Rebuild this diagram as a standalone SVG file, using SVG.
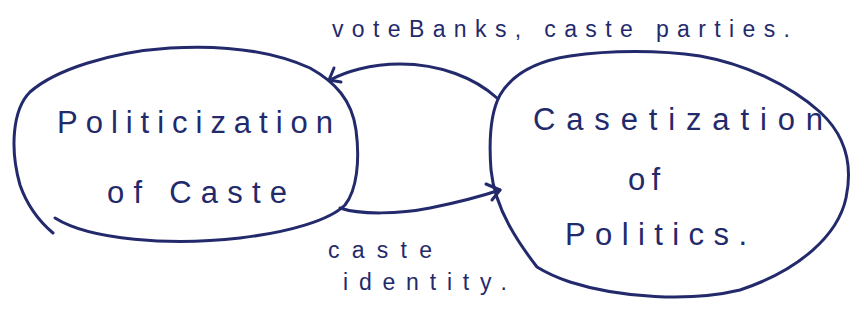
<svg xmlns="http://www.w3.org/2000/svg" width="851" height="322" viewBox="0 0 851 322">
  <style>
    .ink { fill: none; stroke: #232a6c; stroke-width: 3; stroke-linecap: round; stroke-linejoin: round; }
    .txt { font-family: "Liberation Sans", "DejaVu Sans", sans-serif; fill: #232a6c; }
    .big { font-size: 31px; }
    .small { font-size: 23px; }
  </style>
  <rect width="851" height="322" fill="#ffffff"/>

  <!-- left node: hand-drawn loop, open at lower left -->
  <g id="node-politicization">
    <path class="ink" d="M 55 218 C 90 240, 170 246, 240 238 C 290 232, 330 220, 345 205 C 357 190, 360 160, 356 130 C 352 100, 335 82, 310 68 C 270 50, 220 45, 170 48 C 110 52, 55 70, 30 92 C 12 110, 10 150, 20 185 C 28 208, 40 222, 53 233"/>
    <text class="txt big" x="57" y="133" textLength="276" lengthAdjust="spacing">Politicization</text>
    <text class="txt big" x="107" y="203" textLength="180" lengthAdjust="spacing">of Caste</text>
  </g>

  <!-- right node -->
  <g id="node-casteization">
    <path class="ink" d="M 537 267 C 520 245, 495 210, 491 170 C 488 130, 493 108, 500 95 C 510 78, 530 62, 570 56 C 610 50, 660 50, 700 56 C 745 64, 790 85, 820 112 C 845 135, 853 165, 846 198 C 838 235, 800 270, 740 290 C 690 302, 620 298, 570 282 C 555 277, 545 272, 537 267 Z"/>
    <text class="txt big" x="533" y="130" textLength="290" lengthAdjust="spacing">Casetization</text>
    <text class="txt big" x="628" y="190" textLength="32" lengthAdjust="spacing">of</text>
    <text class="txt big" x="565" y="245" textLength="182" lengthAdjust="spacing">Politics.</text>
  </g>

  <!-- connectors between the two loops -->
  <g id="connectors">
    <path class="ink" d="M 497 98 C 475 78, 440 64, 400 64 C 370 64, 345 72, 330 80"/>
    <path class="ink" d="M 334 68 L 329 80 L 341 82"/>
    <path class="ink" d="M 340 208 C 360 215, 400 214, 430 208 C 460 202, 485 195, 500 190"/>
    <path class="ink" d="M 486 184 L 500 190 L 492 200"/>
  </g>

  <!-- connector labels -->
  <g id="labels">
    <text class="txt small" x="332" y="37" textLength="458" lengthAdjust="spacing">voteBanks, caste parties.</text>
    <text class="txt small" x="328" y="258" textLength="104" lengthAdjust="spacing">caste</text>
    <text class="txt small" x="343" y="290" textLength="164" lengthAdjust="spacing">identity.</text>
  </g>
</svg>
